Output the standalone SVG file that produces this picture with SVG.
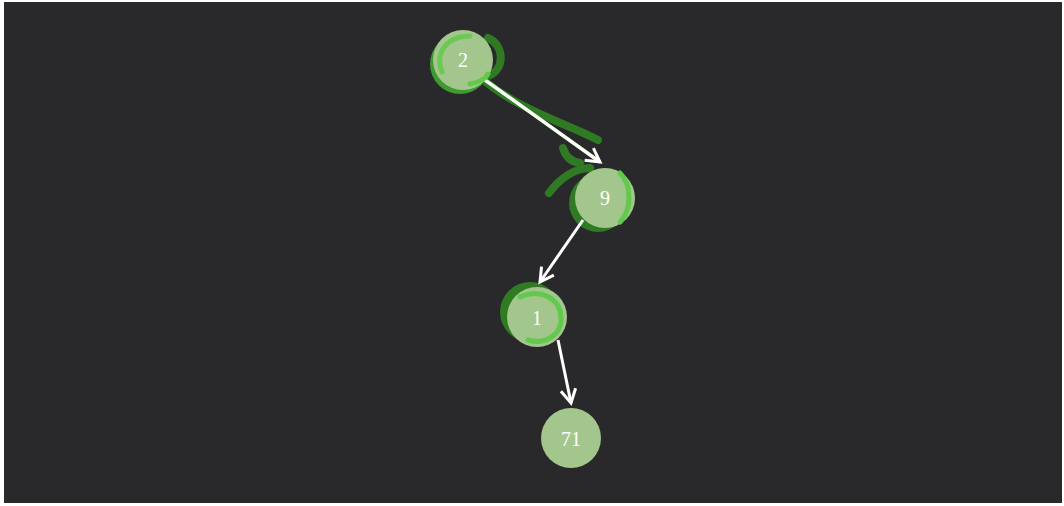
<svg xmlns="http://www.w3.org/2000/svg" width="1064" height="506" viewBox="0 0 1064 506">
<defs>
<style>
.node{fill:#a3c68c}
.lbl{font-family:"Liberation Serif",serif;font-size:20px;fill:#ffffff;text-anchor:middle;dominant-baseline:central}
.edge{stroke:#ffffff;stroke-width:3;fill:none;marker-end:url(#ah)}
.dk{stroke:#2f7a22;fill:none;stroke-linecap:round;stroke-width:8}
.br{stroke:#63c94c;fill:none;stroke-linecap:round;stroke-width:5}
</style>
<marker id="ah" viewBox="0 0 12 12" refX="10" refY="6" markerWidth="6" markerHeight="6" orient="auto" markerUnits="strokeWidth">
<path d="M1,1 L10,6 L1,11" fill="none" stroke="#ffffff" stroke-width="2"/>
</marker>
</defs>
<rect x="0" y="0" width="1064" height="506" fill="#ffffff"/>
<rect x="4" y="2" width="1058" height="501" fill="#29282b"/>
<g id="annotations">
<circle cx="460" cy="64" r="30" fill="#3f9a30"/>
<path class="dk" d="M488,38 C505,45 505,70 488,76"/>
<path class="dk" d="M486,82 C520,110 570,125 598,140" stroke-width="9"/>
<path class="dk" d="M563,148 C566,158 572,162 580,163" stroke-width="8"/>
<path class="dk" d="M549,193 C560,178 575,168 590,168" stroke-width="7"/>
<circle cx="598" cy="203" r="29" fill="#2f7a22"/>
<circle cx="530" cy="312" r="30" fill="#2f7a22"/>
</g>
<g id="connectors">
<line x1="485" y1="80" x2="600" y2="162" stroke="#b6f2a4" stroke-width="3.5"/>
<line class="edge" x1="485" y1="80" x2="600" y2="162"/>
<line class="edge" x1="583" y1="220" x2="540" y2="282"/>
<line class="edge" x1="558" y1="340" x2="571" y2="403"/>
</g>
<g id="node-2">
<circle class="node" cx="463" cy="60" r="30"/>
<path class="br" d="M442,72 C434,52 448,36 470,36" stroke-width="9" stroke-opacity="0.85"/>
<path class="br" d="M470,84 C480,82 486,78 488,74" stroke-width="5"/>
<text class="lbl" x="463" y="60">2</text>
</g>
<g id="node-9">
<circle class="node" cx="605" cy="198" r="30"/>
<path class="br" d="M620,173 C632,185 632,210 620,222" stroke-width="4"/>
<text class="lbl" x="605" y="198">9</text>
</g>
<g id="node-1">
<circle class="node" cx="537" cy="317" r="30"/>
<path class="br" d="M520,297 C540,288 560,298 561,317 C562,335 545,345 528,340" stroke-width="4"/>
<text class="lbl" x="537" y="318">1</text>
</g>
<g id="node-71">
<circle class="node" cx="571" cy="438" r="30"/>
<text class="lbl" x="571" y="439">71</text>
</g>
</svg>
